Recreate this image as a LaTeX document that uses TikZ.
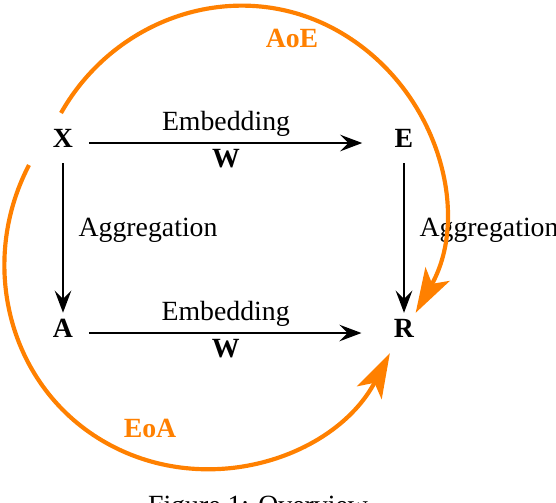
\documentclass[tikz,border=0pt]{standalone}
\usepackage{fontspec}
\setmainfont{Liberation Serif}
\usetikzlibrary{arrows.meta}

\begin{document}
\begin{tikzpicture}[x=0.36pt, y=0.36pt,
    var/.style={inner xsep=5.5pt, inner ysep=2pt, text depth=3.6pt, font=\bfseries},
    map/.style={-{Stealth[length=8pt, width=6pt, inset=3pt]}, line width=0.6pt},
    embed/.style={map, shorten >=6pt},
    loop/.style={-{Stealth[length=16pt, width=10pt, inset=4pt]}, orange, line width=1.5pt},
    looplabel/.style={orange, font=\bfseries}]
    \useasboundingbox (0,0) rectangle (556,-502);
    % the four corners
    \node [var] (x) at (63,-143) {X};
    \node [var] (e) at (404,-143) {E};
    \node [var] (a) at (63,-333) {A};
    \node [var] (r) at (404,-333) {R};
    \draw [embed] (x) -- (e) node [pos=0.473, above, inner sep=2pt] {Embedding}
                             node [pos=0.473, below, inner sep=2pt] {\textbf{W}};
    \draw [embed] (a) -- (r) node [pos=0.473, above, inner sep=2pt] {Embedding}
                             node [pos=0.473, below, inner sep=2pt] {\textbf{W}};
    \draw [map] (x) -- (a) node [pos=0.45, right=2pt] {Aggregation};
    \draw [map] (e) -- (r) node [pos=0.45, right=2pt] {Aggregation};
    % the two round trips
    \coordinate (aoe start) at (61,-113);
    \coordinate (aoe mid) at (338,-31);
    \coordinate (eoa start) at (29,-165);
    \coordinate (eoa mid) at (112,-446);
    \draw [loop] (aoe start) to [out=60.5, in=150.5] (aoe mid)
                             to [out=-29.5, in=60.5] (r.60);
    \draw [loop] (eoa start) to [out=242.5, in=152.5] (eoa mid)
                             to [out=-27.5, in=242.5] (r.235);
    \node [looplabel] (aoe) at (292,-38) {AoE};
    \node [looplabel] (eoa) at (150,-428) {EoA};
    \node [anchor=base] (caption) at (258,-514) {Figure 1: Overview};
\end{tikzpicture}
\end{document}
